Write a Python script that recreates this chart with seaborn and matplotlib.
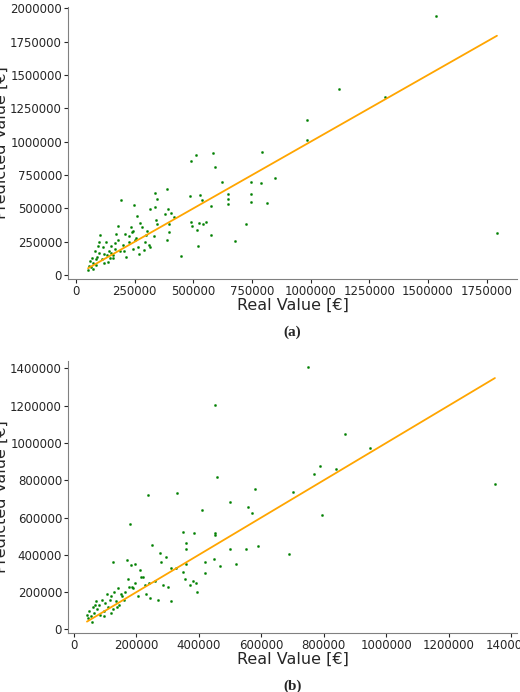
import numpy as np
import pandas as pd
import matplotlib
matplotlib.use("Agg")
import matplotlib.pyplot as plt
import seaborn as sns

# (a) real / predicted values
real_a = [1534000, 1794000, 1122000, 1318000, 986000, 986000, 795000, 847000, 790000, 815000,
          727000, 677000, 747000, 747000, 747000, 648000, 648000, 648000, 622000, 585000,
          591000, 511000, 491000, 487000, 528000, 537000, 577000, 490000, 495000, 525000,
          540000, 555000, 517000, 519000, 577000, 447000, 388000, 337000, 345000, 338000,
          317000, 392000, 378000, 406000, 419000, 396000, 398000, 388000, 340000, 345000,
          305000, 335000, 295000, 193000, 249000, 262000, 275000, 283000, 300000, 310000,
          235000, 245000, 255000, 265000, 225000, 210000, 200000, 190000, 180000, 172000,
          165000, 160000, 150000, 145000, 140000, 135000, 128000, 120000, 115000, 110000,
          105000, 100000, 95000, 90000, 85000, 80000, 75000, 70000, 65000, 60000,
          55000, 52000, 98000, 132000, 158000, 178000, 205000, 228000, 242000, 268000,
          290000, 315000, 118000, 88000, 72000, 148000, 168000, 212000, 238000, 252000]
pred_a = [1940000, 317000, 1394000, 1332000, 1161000, 1012000, 925000, 731000, 688000, 543000,
          385000, 255000, 697000, 611000, 550000, 606000, 570000, 531000, 702000, 915000,
          808000, 897000, 853000, 594000, 601000, 565000, 519000, 395000, 372000, 390000,
          380000, 395000, 339000, 216000, 300000, 144000, 647000, 613000, 570000, 512000,
          495000, 495000, 457000, 469000, 433000, 387000, 324000, 262000, 410000, 380000,
          330000, 290000, 250000, 565000, 526000, 445000, 390000, 360000, 300000, 230000,
          360000, 330000, 280000, 215000, 250000, 310000, 230000, 180000, 260000, 310000,
          200000, 150000, 220000, 130000, 180000, 100000, 250000, 160000, 210000, 120000,
          300000, 170000, 220000, 140000, 120000, 180000, 90000, 130000, 60000, 110000,
          70000, 40000, 250000, 150000, 130000, 370000, 180000, 290000, 200000, 160000,
          190000, 210000, 90000, 80000, 50000, 170000, 240000, 140000, 320000, 260000]

# (b) real / predicted values
real_b = [749000, 451000, 868000, 949000, 789000, 769000, 840000, 795000, 1348000, 700000,
          690000, 580000, 559000, 570000, 500000, 459000, 410000, 331000, 236000, 180000,
          350000, 386000, 451000, 451000, 360000, 360000, 500000, 551000, 590000, 520000,
          469000, 448000, 420000, 420000, 249000, 275000, 296000, 280000, 126000, 170000,
          182000, 196000, 211000, 311000, 328000, 350000, 360000, 355000, 372000, 380000,
          392000, 395000, 300000, 260000, 240000, 230000, 220000, 205000, 195000, 188000,
          175000, 165000, 160000, 150000, 145000, 140000, 135000, 130000, 125000, 120000,
          115000, 110000, 105000, 100000, 95000, 90000, 85000, 80000, 75000, 70000,
          65000, 60000, 55000, 50000, 45000, 42000, 245000, 270000, 285000, 310000,
          215000, 185000, 155000, 98000, 68000, 58000, 118000, 138000, 172000, 228000]
pred_b = [1407000, 1204000, 1049000, 975000, 876000, 831000, 861000, 616000, 778000, 739000,
          407000, 751000, 656000, 625000, 681000, 820000, 641000, 731000, 722000, 566000,
          521000, 515000, 519000, 506000, 461000, 430000, 432000, 429000, 447000, 353000,
          339000, 378000, 362000, 301000, 452000, 411000, 386000, 359000, 362000, 373000,
          348000, 350000, 319000, 330000, 330000, 310000, 350000, 270000, 240000, 260000,
          250000, 200000, 230000, 260000, 250000, 190000, 280000, 180000, 250000, 220000,
          230000, 200000, 160000, 190000, 130000, 220000, 150000, 200000, 110000, 180000,
          160000, 120000, 190000, 140000, 100000, 160000, 80000, 130000, 110000, 150000,
          90000, 120000, 70000, 100000, 60000, 80000, 170000, 160000, 240000, 150000,
          280000, 230000, 180000, 70000, 130000, 40000, 90000, 120000, 270000, 240000]

sns.set_style("white")
plt.rcParams['font.family'] = ['DejaVu Sans']

fig, axes = plt.subplots(2, 1, figsize=(5.2, 6.92), dpi=100)
panels = [(real_a, pred_a, "(a)", [0, 250000, 500000, 750000, 1000000, 1250000, 1500000, 1750000],
           [0, 250000, 500000, 750000, 1000000, 1250000, 1500000, 1750000, 2000000]),
          (real_b, pred_b, "(b)", [0, 200000, 400000, 600000, 800000, 1000000, 1200000, 1400000],
           [0, 200000, 400000, 600000, 800000, 1000000, 1200000, 1400000])]

for ax, (r, p, tag, xt, yt) in zip(axes, panels):
    df = pd.DataFrame({"real": r, "pred": p})
    sns.scatterplot(data=df, x="real", y="pred", ax=ax, color="green", s=3, edgecolor=None)
    lo, hi = min(r), max(r)
    sns.lineplot(x=[lo, hi], y=[lo, hi], ax=ax, color="orange", linewidth=1.3)
    ax.set_xticks(xt)
    ax.set_yticks(yt)
    ax.ticklabel_format(style="plain")
    ax.tick_params(labelsize=8.5, length=3, pad=1, left=True, bottom=True)
    ax.set_xlabel("Real Value [€]", fontsize=11.5, labelpad=0)
    ax.set_ylabel("Predicted Value [€]", fontsize=11.5, labelpad=1)
    for s in ["top", "right"]:
        ax.spines[s].set_visible(False)
    for s in ["left", "bottom"]:
        ax.spines[s].set_color("gray")
    ax.text(0.5, -0.17, tag, transform=ax.transAxes, ha="center", va="top",
            fontsize=11, fontweight="bold", family="Liberation Serif")

axes[0].set_ylim(-30000, 2010000)
axes[1].set_ylim(-20000, 1440000)
axes[1].set_xlim(-20000, 1420000)
plt.subplots_adjust(left=0.13, right=0.995, top=0.99, bottom=0.085, hspace=0.3)
plt.savefig("out.png")
